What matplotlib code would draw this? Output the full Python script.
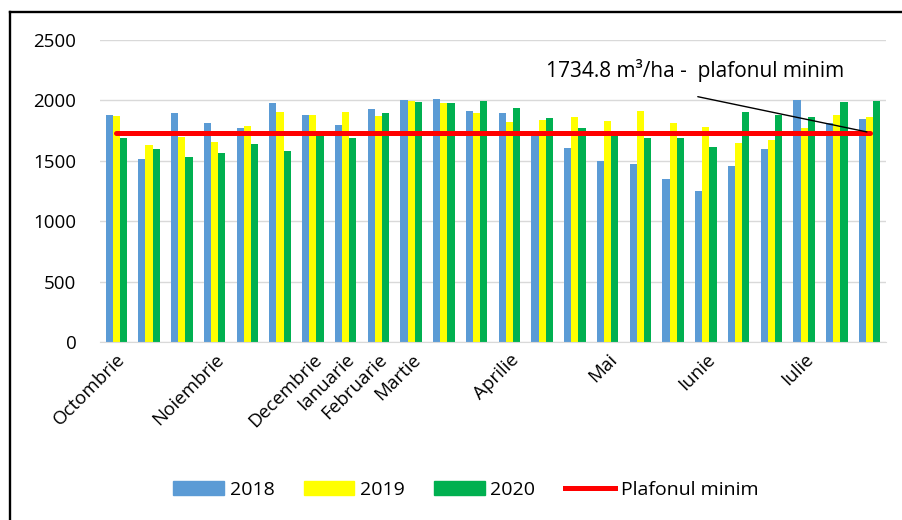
import matplotlib
matplotlib.use("Agg")
import matplotlib.pyplot as plt
import numpy as np
from matplotlib.patches import Patch
from matplotlib.lines import Line2D

plt.rcParams['font.family'] = ['Open Sans', 'DejaVu Sans']

# data (m3/ha)
luni = ['Octombrie', '', '', 'Noiembrie', '', '', 'Decembrie', 'Ianuarie',
        'Februarie', 'Martie', '', '', 'Aprilie', '', '', 'Mai', '', '',
        'Iunie', '', '', 'Iulie', '', '']
v2018 = [1882, 1514, 1893, 1816, 1769, 1978, 1882, 1797, 1929, 2003, 2014, 1909,
         1893, 1703, 1610, 1497, 1478, 1354, 1253, 1459, 1599, 2003, 1810, 1843]
v2019 = [1871, 1629, 1700, 1657, 1788, 1901, 1882, 1901, 1871, 1997, 1978, 1893,
         1824, 1835, 1865, 1827, 1912, 1816, 1780, 1648, 1673, 1769, 1882, 1863]
v2020 = [1692, 1599, 1533, 1563, 1637, 1580, 1720, 1692, 1893, 1984, 1975, 1995,
         1940, 1852, 1769, 1730, 1692, 1692, 1618, 1901, 1882, 1863, 1984, 1995]
plafon = 1734.8

blue = '#5B9BD5'
yellow = '#FFFF00'
green = '#00B050'

fig = plt.figure(figsize=(9.03, 5.2), dpi=100)
ax = fig.add_axes([0.1107, 0.342, 0.8705, 0.581])

x = np.arange(len(luni))
w = 0.22
ax.bar(x - w, v2018, w, color=blue, zorder=2)
ax.bar(x, v2019, w, color=yellow, zorder=2)
ax.bar(x + w, v2020, w, color=green, zorder=2)
ax.plot([x[0], x[-1]], [plafon, plafon], color='red', lw=3.6, zorder=3,
        solid_capstyle='round')

ax.set_xlim(-0.5, len(luni) - 0.5)
ax.set_ylim(0, 2500)
ax.set_yticks(np.arange(0, 2501, 500))
ax.grid(axis='y', color='#d9d9d9', lw=1, zorder=0)
for s in ['top', 'right', 'left']:
    ax.spines[s].set_visible(False)
ax.spines['bottom'].set_color('#d9d9d9')
ax.tick_params(axis='both', length=0, labelsize=13.5, colors='black')
ax.tick_params(axis='y', pad=17)
ax.set_xticks(x)
ax.set_xticklabels(luni, rotation=45, ha='right', va='top', rotation_mode='anchor')
ax.tick_params(axis='x', pad=6)

# annotation for the minimum line
ax.text(17.67, 2250, '1734.8 m\u00b3/ha -  plafonul minim', ha='center', va='center',
        fontsize=15)
ax.annotate('', xy=(x[-1], plafon), xytext=(17.67, 2036),
            arrowprops=dict(arrowstyle='-', color='black', lw=1), annotation_clip=False)

handles = [Patch(color=blue), Patch(color=yellow), Patch(color=green),
           Line2D([0], [0], color='red', lw=3.6)]
fig.legend(handles, ['2018', '2019', '2020', 'Plafonul minim'], loc='center',
           bbox_to_anchor=(0.516, 0.058), ncol=4, frameon=False, fontsize=14,
           handlelength=2.6, handleheight=0.75, handletextpad=0.3, columnspacing=1.5)

# outer frame (left and top only, as in the source)
fig.add_artist(Line2D([10 / 903, 10 / 903], [0, 1 - 12 / 520], color='black', lw=1.7,
                      transform=fig.transFigure))
fig.add_artist(Line2D([10 / 903, 1], [1 - 12 / 520, 1 - 12 / 520], color='black', lw=1.7,
                      transform=fig.transFigure))

fig.savefig('out.png', dpi=100)
